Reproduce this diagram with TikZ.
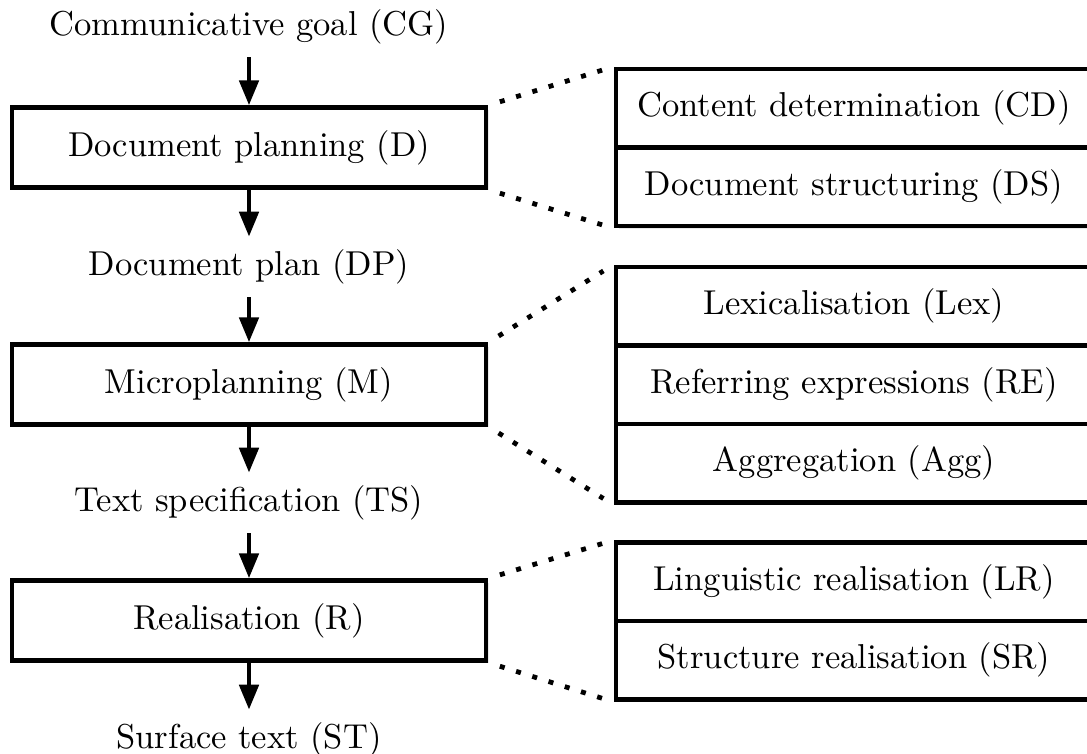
\documentclass[tikz,border=0pt]{standalone}
\usepackage{fontspec}
\setmainfont{lmroman10-regular.otf}
\usetikzlibrary{arrows.meta,shadows}
\begin{document}
\begin{tikzpicture}[x=0.5pt,y=-0.5pt]
\tikzset{
  stagebox/.style={draw, line width=2.4pt, fill=white, font=\LARGE,
    minimum width=237pt, minimum height=39.75pt, inner sep=0pt,
    drop shadow={shadow xshift=1.3pt, shadow yshift=-1.3pt, opacity=0.18}},
  taskbox/.style={draw, line width=2.4pt, fill=white, font=\LARGE,
    minimum width=238pt, minimum height=39.25pt, inner sep=0pt,
    drop shadow={shadow xshift=1.3pt, shadow yshift=-1.3pt, opacity=0.18}},
  datum/.style={font=\LARGE, text height=12.96pt, text depth=4.32pt, inner sep=6.3pt},
  flow/.style={line width=2.4pt, -{Triangle[length=12.5pt,width=9.5pt]}},
  zoomline/.style={line width=2.4pt, dash pattern=on 2.5pt off 6pt,
    shorten <=6pt, shorten >=6pt}
}
\useasboundingbox (0,0) rectangle (1087,754);

% pipeline stages and the data passed between them
\node[datum]    (cg) at (249,27)    {Communicative goal (CG)};
\node[stagebox] (d)  at (249,147.5) {Document planning (D)};
\node[datum]    (dp) at (249,267)   {Document plan (DP)};
\node[stagebox] (m)  at (249,384.5) {Microplanning (M)};
\node[datum]    (ts) at (249,503)   {Text specification (TS)};
\node[stagebox] (r)  at (249,620.5) {Realisation (R)};
\node[datum]    (st) at (249,740)   {Surface text (ST)};

% sub-tasks of each stage
\node[taskbox] (cd)  at (854,108.25) {Content determination (CD)};
\node[taskbox] (ds)  at (854,186.75) {Document structuring (DS)};

\node[taskbox] (lex) at (854,306.25) {Lexicalisation (Lex)};
\node[taskbox] (re)  at (854,384.75) {Referring expressions (RE)};
\node[taskbox] (agg) at (854,463.25) {Aggregation (Agg)};

\node[taskbox] (lr)  at (854,581.75) {Linguistic realisation (LR)};
\node[taskbox] (sr)  at (854,660.25) {Structure realisation (SR)};

% data flow
\draw[flow] (cg.south) -- (d.north);
\draw[flow] (d.south)  -- (dp.north);
\draw[flow] (dp.south) -- (m.north);
\draw[flow] (m.south)  -- (ts.north);
\draw[flow] (ts.south) -- (r.north);
\draw[flow] (r.south)  -- (st.north);

% expansion of each stage into its sub-tasks
\draw[zoomline] (d.north east) -- (cd.north west);
\draw[zoomline] (d.south east) -- (ds.south west);
\draw[zoomline] (m.north east) -- (lex.north west);
\draw[zoomline] (m.south east) -- (agg.south west);
\draw[zoomline] (r.north east) -- (lr.north west);
\draw[zoomline] (r.south east) -- (sr.south west);
\end{tikzpicture}
\end{document}
